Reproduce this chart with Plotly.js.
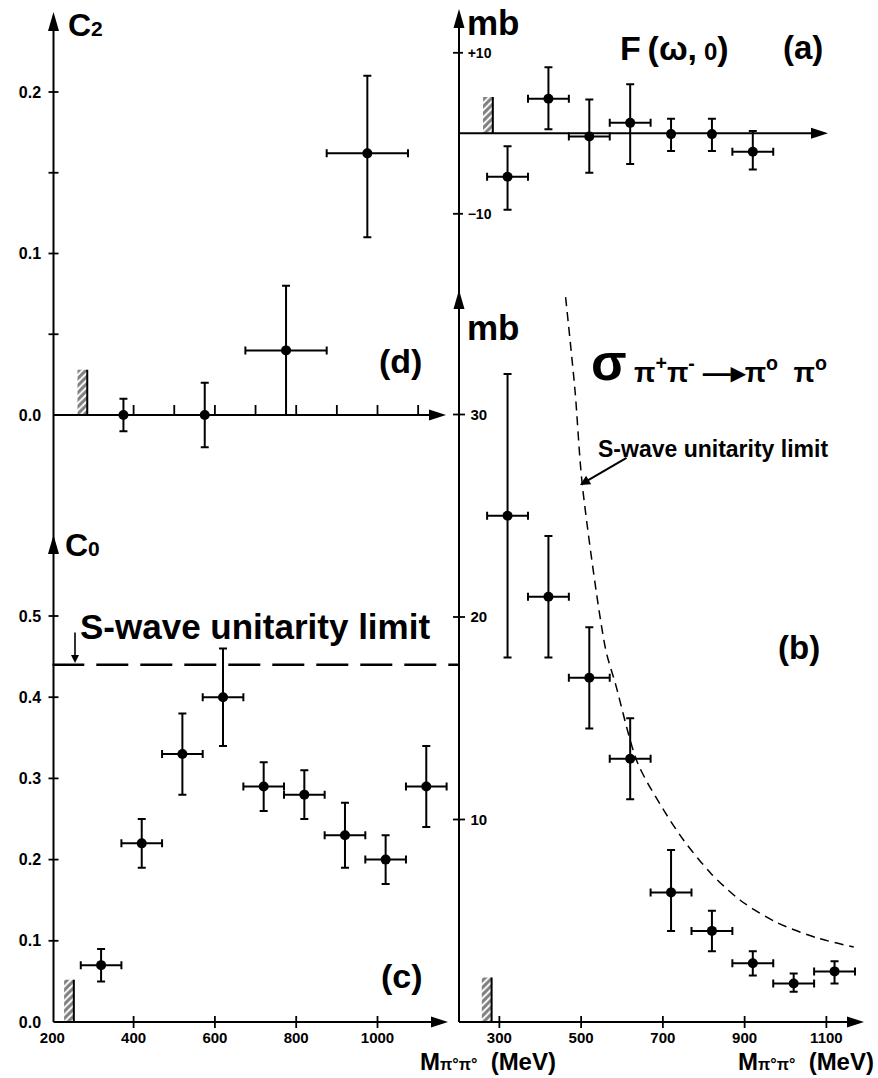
<!DOCTYPE html>
<html><head><meta charset="utf-8">
<script src="https://cdn.plot.ly/plotly-3.0.1.min.js"></script>
<style>html,body{margin:0;padding:0;background:#fff}</style>
</head><body><div id="chart" style="width:878px;height:1078px"></div>
<script>
// ================= DATA =================
// Panel (d): C2 vs M(pi0 pi0)
const dMass    = [375, 575, 775, 975];
const dC2      = [0.0, 0.0, 0.04, 0.162];
const dErrUp   = [0.01, 0.02, 0.04, 0.048];
const dErrDn   = [0.01, 0.02, 0.04, 0.052];
const dMassErr = [0, 0, 100, 100];

// Panel (c): C0 vs M(pi0 pi0)
const cMass    = [320, 420, 520, 620, 720, 820, 920, 1020, 1120];
const cC0      = [0.07, 0.22, 0.33, 0.40, 0.29, 0.28, 0.23, 0.20, 0.29];
const cErrUp   = [0.02, 0.03, 0.05, 0.06, 0.03, 0.03, 0.04, 0.03, 0.05];
const cErrDn   = [0.02, 0.03, 0.05, 0.06, 0.03, 0.03, 0.04, 0.03, 0.05];
const cMassErr = [50, 50, 50, 50, 50, 50, 50, 50, 50];
const cUnitarityLimit = 0.44;

// Panel (a): F(omega,0) in mb
const aMass    = [320, 420, 520, 620, 720, 820, 920];
const aF       = [-5.4, 4.3, -0.4, 1.3, -0.1, -0.1, -2.3];
const aErrUp   = [3.8, 3.9, 4.6, 4.8, 1.9, 1.9, 2.6];
const aErrDn   = [4.1, 3.8, 4.5, 5.1, 2.1, 2.1, 2.2];
const aMassErr = [50, 50, 50, 50, 0, 0, 50];

// Panel (b): sigma(pi+pi- -> pi0 pi0) in mb
const bMass    = [320, 420, 520, 620, 720, 820, 920, 1020, 1120];
const bSigma   = [25, 21, 17, 13, 6.4, 4.5, 2.9, 1.9, 2.5];
const bErrUp   = [7, 3, 2.5, 2, 2.1, 1.0, 0.6, 0.5, 0.5];
const bErrDn   = [7, 3, 2.5, 2, 1.9, 1.0, 0.6, 0.4, 0.6];
const bMassErr = [50, 50, 50, 50, 50, 50, 50, 50, 50];
// S-wave unitarity limit curve
const bLimitMass  = [462, 485, 503, 560, 584, 638, 701, 750, 817, 890, 980, 1078, 1167];
const bLimitSigma = [35.8, 31.2, 26.5, 18.4, 16.7, 12.8, 10.5, 9.0, 7.35, 6.0, 4.9, 4.15, 3.7];

// Threshold hatch marks: panels d, c, a, b
const hatchPanels = ['d', 'c', 'a', 'b'];
const hatchEdge   = [286, 253, 284, 281];
const hatchHeight = [0.028, 0.052, 4.5, 2.2];

// Tick values / labels
const dXTicks = [400, 500, 600, 700, 800, 900, 1000, 1100];
const dYTicks = [0, 0.1, 0.2];
const dYTickText = ['0.0', '0.1', '0.2'];
const dYMinor = [0.05, 0.15];
const cXTicks = [200, 400, 600, 800, 1000];
const cXTickText = ['200', '400', '600', '800', '1000'];
const cYTicks = [0, 0.1, 0.2, 0.3, 0.4, 0.5];
const cYTickText = ['0.0', '0.1', '0.2', '0.3', '0.4', '0.5'];
const aYTicks = [-10, 10];
const aYTickText = ['\u221210', '+10'];
const bXTicks = [300, 500, 700, 900, 1100];
const bXTickText = ['300', '500', '700', '900', '1100'];
const bYTicks = [10, 20, 30];
const bYTickText = ['10', '20', '30'];

// ================= LAYOUT GEOMETRY =================
const W = 878, H = 1078;
const FONT = 'Liberation Sans, Arial, Helvetica, sans-serif';
const px = x => x / W;
const py = y => 1 - y / H;
const L = {x0: 52.3, kx: 0.4065, axis: 53.5, left: 52.3, right: 460};
const R = {x0: 458.5, kx: 0.40875, axis: 459, left: 458.5, right: 878};
const G = {
  d: {col: L, y0: 415,   ky: 1615, top: 8,   bottom: 470, xa: 'x',  ya: 'y'},
  c: {col: L, y0: 1022,  ky: 812,  top: 500, bottom: 1022, xa: 'x2', ya: 'y2'},
  a: {col: R, y0: 133.3, ky: 8.05, top: 4,   bottom: 240, xa: 'x3', ya: 'y3'},
  b: {col: R, y0: 1022,  ky: 20.25, top: 262, bottom: 1022, xa: 'x4', ya: 'y4'}
};
const xr = col => [200 + (col.left - col.x0) / col.kx, 200 + (col.right - col.x0) / col.kx];
const yr = g => [(g.y0 - g.bottom) / g.ky, (g.y0 - g.top) / g.ky];

const base = {showgrid: false, zeroline: false, showline: false, ticks: '', showticklabels: false, fixedrange: true};
function xAxis(g, extra) {
  return Object.assign({}, base, {domain: [px(g.col.left), px(g.col.right)], range: xr(g.col), anchor: g.ya}, extra || {});
}
function yAxis(g, extra) {
  return Object.assign({}, base, {domain: [py(g.bottom), py(g.top)], range: yr(g), anchor: g.xa}, extra || {});
}
const tickFont = size => ({family: FONT, size: size, color: '#000', weight: 700});
const lblX = (vals, text) => ({showticklabels: true, tickvals: vals, ticktext: text, ticks: 'outside', ticklen: 2, tickcolor: 'rgba(0,0,0,0)', tickfont: tickFont(15)});
const lblYOut = (vals, text) => ({showticklabels: true, tickvals: vals, ticktext: text, ticks: 'outside', ticklen: 7, tickcolor: 'rgba(0,0,0,0)', tickfont: tickFont(16)});
const lblYIn = (vals, text, size, len) => ({showticklabels: true, tickvals: vals, ticktext: text, ticks: 'inside', ticklabelposition: 'inside', ticklen: len, tickcolor: 'rgba(0,0,0,0)', tickfont: tickFont(size)});

// ================= TRACES =================
function errTrace(g, x, y, up, dn, xe) {
  return {
    type: 'scatter', mode: 'markers', x: x, y: y, xaxis: g.xa, yaxis: g.ya,
    marker: {color: '#000', size: 10, symbol: 'circle'},
    error_y: {type: 'data', symmetric: false, array: up, arrayminus: dn, color: '#000', thickness: 2, width: 4},
    error_x: {type: 'data', array: xe, color: '#000', thickness: 2, width: 4},
    cliponaxis: false, showlegend: false, hoverinfo: 'skip'
  };
}
const traces = [];
const hatchWidth = 24;
hatchPanels.forEach((p, i) => {
  const g = G[p];
  traces.push({
    type: 'bar', x: [hatchEdge[i] - hatchWidth / 2], y: [hatchHeight[i]], width: hatchWidth,
    xaxis: g.xa, yaxis: g.ya, showlegend: false, hoverinfo: 'skip',
    marker: {color: 'white', line: {width: 0},
      pattern: {shape: '/', size: 5, solidity: 0.6, fgcolor: '#000', bgcolor: 'white', fillmode: 'overlay'}}
  });
  traces.push({
    type: 'scatter', mode: 'lines', x: [hatchEdge[i], hatchEdge[i]], y: [0, hatchHeight[i]],
    xaxis: g.xa, yaxis: g.ya, line: {color: '#000', width: 2}, showlegend: false, hoverinfo: 'skip'
  });
});
traces.push(errTrace(G.d, dMass, dC2, dErrUp, dErrDn, dMassErr));
traces.push(errTrace(G.c, cMass, cC0, cErrUp, cErrDn, cMassErr));
traces.push(errTrace(G.a, aMass, aF, aErrUp, aErrDn, aMassErr));
traces.push(errTrace(G.b, bMass, bSigma, bErrUp, bErrDn, bMassErr));
// S-wave unitarity limit, panel (c)
const cXR = xr(G.c.col);
traces.push({
  type: 'scatter', mode: 'lines', x: [200, cXR[1] - 3], y: [cUnitarityLimit, cUnitarityLimit],
  xaxis: 'x2', yaxis: 'y2', line: {color: '#000', width: 2.5, dash: '32px,12px'},
  showlegend: false, hoverinfo: 'skip'
});
// S-wave unitarity limit, panel (b)
traces.push({
  type: 'scatter', mode: 'lines', x: bLimitMass, y: bLimitSigma,
  xaxis: 'x4', yaxis: 'y4', line: {color: '#000', width: 1.5, dash: '9px,6px', shape: 'spline', smoothing: 0.8},
  showlegend: false, hoverinfo: 'skip'
});

// ================= SHAPES (axis lines, ticks, arrowheads) =================
const shapes = [];
const K = '#000';
function pline(x0, y0, x1, y1, w) {
  shapes.push({type: 'line', xref: 'paper', yref: 'paper', x0: px(x0), y0: py(y0), x1: px(x1), y1: py(y1), line: {color: K, width: w || 2}});
}
function headRight(tx, ty) {
  shapes.push({type: 'path', xref: 'paper', yref: 'paper', fillcolor: K, line: {width: 0},
    path: `M${px(tx)},${py(ty)} L${px(tx - 17)},${py(ty - 5.5)} L${px(tx - 17)},${py(ty + 5.5)} Z`});
}
function headUp(tx, ty) {
  shapes.push({type: 'path', xref: 'paper', yref: 'paper', fillcolor: K, line: {width: 0},
    path: `M${px(tx)},${py(ty)} L${px(tx - 5.5)},${py(ty + 19)} L${px(tx + 5.5)},${py(ty + 19)} Z`});
}
// left column axes
pline(L.axis, 1022, L.axis, 22);
headUp(L.axis, 12);
headUp(L.axis, 535);
pline(L.axis, G.d.y0, 432, G.d.y0);
headRight(446, G.d.y0);
pline(L.axis, G.c.y0, 434, G.c.y0);
headRight(448, G.c.y0);
// right column axes
pline(R.axis, 1022, R.axis, 20);
headUp(R.axis, 9);
headUp(R.axis, 290);
pline(R.axis, G.a.y0, 814, G.a.y0);
headRight(828, G.a.y0);
pline(R.axis, G.b.y0, 850, G.b.y0);
headRight(864, G.b.y0);

function xTick(g, v, up, down) {
  shapes.push({type: 'line', xref: g.xa, yref: 'paper', x0: v, x1: v, y0: py(g.y0 + down), y1: py(g.y0 - up), line: {color: K, width: 1.8}});
}
function yTick(g, v, left, right) {
  shapes.push({type: 'line', xref: 'paper', yref: g.ya, x0: px(g.col.axis - left), x1: px(g.col.axis + right), y0: v, y1: v, line: {color: K, width: 1.8}});
}
dXTicks.forEach(v => xTick(G.d, v, 10, 0));
dYTicks.concat(dYMinor).forEach(v => { if (v !== 0) yTick(G.d, v, 5, 5); });
cXTicks.forEach(v => { if (v !== 200) xTick(G.c, v, 6, 6); });
cYTicks.forEach(v => { if (v !== 0) yTick(G.c, v, 5, 5); });
aYTicks.forEach(v => yTick(G.a, v, 6, 4));
bXTicks.forEach(v => xTick(G.b, v, 6, 6));
bYTicks.forEach(v => yTick(G.b, v, 6, 6));

// ================= ANNOTATIONS =================
const annotations = [];
function ann(text, x, y, size, xanchor, opts) {
  annotations.push(Object.assign({
    text: text, xref: 'paper', yref: 'paper', x: px(x), y: py(y), xanchor: xanchor || 'left', yanchor: 'middle',
    showarrow: false, font: {family: FONT, size: size, color: '#000'}
  }, opts || {}));
}
ann("<b>C<span style='font-size:21px'>2</span></b>", 66, 25, 32);
ann("<b>C<span style='font-size:21px'>0</span></b>", 63, 545, 32);
ann('<b>(d)</b>', 377, 361, 34);
ann('<b>(c)</b>', 379, 976, 34);
ann('<b>S-wave unitarity limit</b>', 78, 626, 35);
ann('<b>mb</b>', 465, 22, 35);
ann("<b>F\u2009(ω,\u2009<span style='font-size:24px'>0</span>)</b>", 618, 48, 34);
ann('<b>(a)</b>', 781, 47, 33);
ann('<b>mb</b>', 465, 327, 35);
ann('<b>σ</b>', 589, 362, 52);
ann("<b>π<sup>+</sup>π<sup>-</sup>\u00a0\u2014\u25B8π<sup>o</sup>\u00a0\u00a0π<sup>o</sup></b>", 632, 370, 28);
ann('<b>S-wave unitarity limit</b>', 596, 449, 23);
ann('<b>(b)</b>', 776, 647, 33);
ann("<b>M<span style='font-size:16px'>π°π°</span>\u00a0\u00a0(MeV)</b>", 558, 1077, 24, 'right', {yanchor: 'bottom'});
ann("<b>M<span style='font-size:16px'>π°π°</span>\u00a0\u00a0(MeV)</b>", 876, 1077, 24, 'right', {yanchor: 'bottom'});
// arrows
annotations.push({text: '', xref: 'paper', yref: 'paper', x: px(75), y: py(663), ax: 0, ay: -32,
  showarrow: true, arrowhead: 2, arrowsize: 1, arrowwidth: 1.6, arrowcolor: K});
annotations.push({text: '', xref: 'paper', yref: 'paper', x: px(580), y: py(485), ax: 48, ay: -28,
  showarrow: true, arrowhead: 2, arrowsize: 1, arrowwidth: 2, arrowcolor: K});

// ================= LAYOUT =================
const layout = {
  width: W, height: H, margin: {l: 0, r: 0, t: 0, b: 0},
  paper_bgcolor: 'white', plot_bgcolor: 'rgba(0,0,0,0)',
  showlegend: false, font: {family: FONT, color: '#000'},
  xaxis:  xAxis(G.d),
  yaxis:  yAxis(G.d, lblYOut(dYTicks, dYTickText)),
  xaxis2: xAxis(G.c, lblX(cXTicks, cXTickText)),
  yaxis2: yAxis(G.c, lblYOut(cYTicks, cYTickText)),
  xaxis3: xAxis(G.a),
  yaxis3: yAxis(G.a, lblYIn(aYTicks, aYTickText, 14, 9)),
  xaxis4: xAxis(G.b, lblX(bXTicks, bXTickText)),
  yaxis4: yAxis(G.b, lblYIn(bYTicks, bYTickText, 15, 12)),
  shapes: shapes, annotations: annotations
};
Plotly.newPlot('chart', traces, layout, {staticPlot: true, displayModeBar: false});
</script>
</body></html>
